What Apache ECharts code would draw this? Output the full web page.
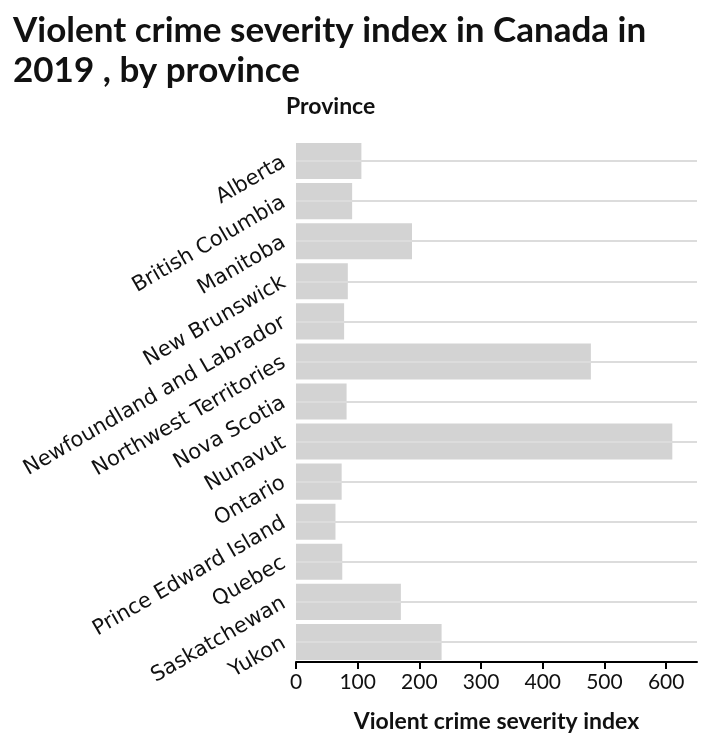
<!DOCTYPE html>
<html>
<head>
<meta charset="utf-8">
<script src="https://cdn.jsdelivr.net/npm/echarts@6/dist/echarts.min.js"></script>
<style>
  html, body { margin: 0; padding: 0; background: #fff; }
  #chart { width: 706px; height: 748px; }
</style>
</head>
<body>
<div id="chart"></div>
<script>
// data
var provinces = ['Alberta', 'British Columbia', 'Manitoba', 'New Brunswick',
  'Newfoundland and Labrador', 'Northwest Territories', 'Nova Scotia', 'Nunavut',
  'Ontario', 'Prince Edward Island', 'Quebec', 'Saskatchewan', 'Yukon']
var severity = [106, 91, 188, 84, 78, 478, 82, 610, 74, 64, 75, 170, 236]
var xTicks = [0, 100, 200, 300, 400, 500, 600]

var chart = echarts.init(document.getElementById('chart'))

var option = {
  animation: false,
  title: {
    text: 'Violent crime severity index in Canada in\n2019 , by province',
    left: 8,
    top: 6,
    textStyle: {
      fontFamily: 'Lato',
      fontWeight: 'bold',
      fontSize: 35,
      lineHeight: 40,
      color: '#111'
    }
  },
  grid: {
    left: 296,
    right: 9,
    top: 141,
    bottom: 86
  },
  xAxis: {
    type: 'value',
    min: 0,
    max: 650,
    name: 'Violent crime severity index',
    nameLocation: 'middle',
    nameGap: 48,
    nameTextStyle: {
      fontFamily: 'Lato',
      fontWeight: 'bold',
      fontSize: 23,
      color: '#111'
    },
    axisLine: { show: true, lineStyle: { color: '#000', width: 2 } },
    axisTick: { show: true, length: 7, customValues: xTicks, lineStyle: { color: '#000', width: 2 } },
    axisLabel: {
      customValues: xTicks,
      margin: 10,
      fontFamily: 'Lato',
      fontSize: 21,
      color: '#111'
    },
    splitLine: { show: false }
  },
  yAxis: {
    type: 'category',
    data: provinces,
    inverse: true,
    name: 'Province',
    nameLocation: 'start',
    nameGap: 34,
    nameTextStyle: {
      fontFamily: 'Lato',
      fontWeight: 'bold',
      fontSize: 23,
      color: '#111',
      align: 'left',
      verticalAlign: 'middle',
      padding: [0, 0, 0, -10]
    },
    axisLine: { show: false },
    axisTick: { show: false },
    splitLine: { show: false },
    axisLabel: {
      rotate: 30,
      margin: 12,
      fontFamily: 'DejaVu Sans',
      fontSize: 21,
      color: '#111'
    }
  },
  series: [
    {
      // horizontal guide lines through each category centre
      type: 'line',
      data: [],
      z: 1,
      silent: true,
      markLine: {
        silent: true,
        symbol: ['none', 'none'],
        label: { show: false },
        lineStyle: { color: '#dcdcdc', width: 2, type: 'solid' },
        data: provinces.map(function (p) { return { yAxis: p } })
      }
    },
    {
      type: 'bar',
      data: severity,
      z: 2,
      barCategoryGap: '10%',
      itemStyle: { color: '#d3d3d3' }
    }
  ]
}

chart.setOption(option)
</script>
</body>
</html>
